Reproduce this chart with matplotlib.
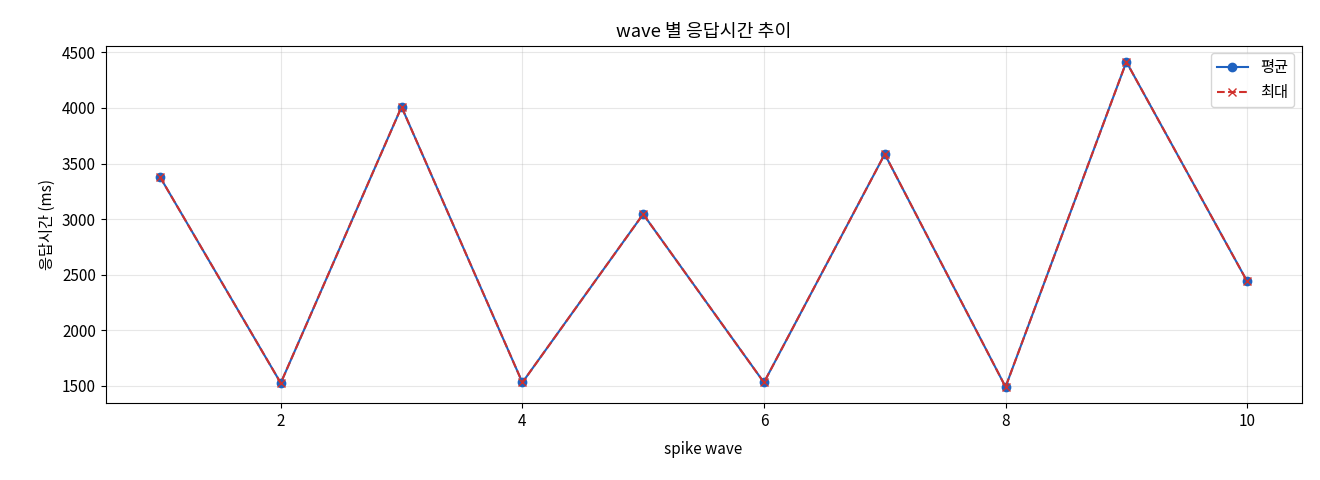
import matplotlib
matplotlib.use("Agg")
import matplotlib.pyplot as plt

plt.rcParams['font.family'] = ['Noto Sans CJK KR', 'DejaVu Sans']
plt.rcParams['font.size'] = 11

waves = [1, 2, 3, 4, 5, 6, 7, 8, 9, 10]
avg_ms = [3380, 1525, 4010, 1530, 3045, 1530, 3585, 1490, 4415, 2440]
max_ms = [3380, 1525, 4010, 1530, 3045, 1530, 3585, 1490, 4415, 2440]

fig, ax = plt.subplots(figsize=(13.2, 4.8), dpi=100)
ax.plot(waves, avg_ms, marker='o', color='#1f62c0', label='평균')
ax.plot(waves, max_ms, marker='x', linestyle='--', color='#d0312d', label='최대')

ax.set_title("wave 별 응답시간 추이")
ax.set_xlabel("spike wave", labelpad=8)
ax.set_ylabel("응답시간 (ms)")
ax.set_yticks([1500, 2000, 2500, 3000, 3500, 4000, 4500])
ax.grid(True, alpha=0.3)
ax.legend(loc='upper right')

plt.subplots_adjust(left=0.08, right=0.986, top=0.905, bottom=0.16)
plt.savefig("out.png")
